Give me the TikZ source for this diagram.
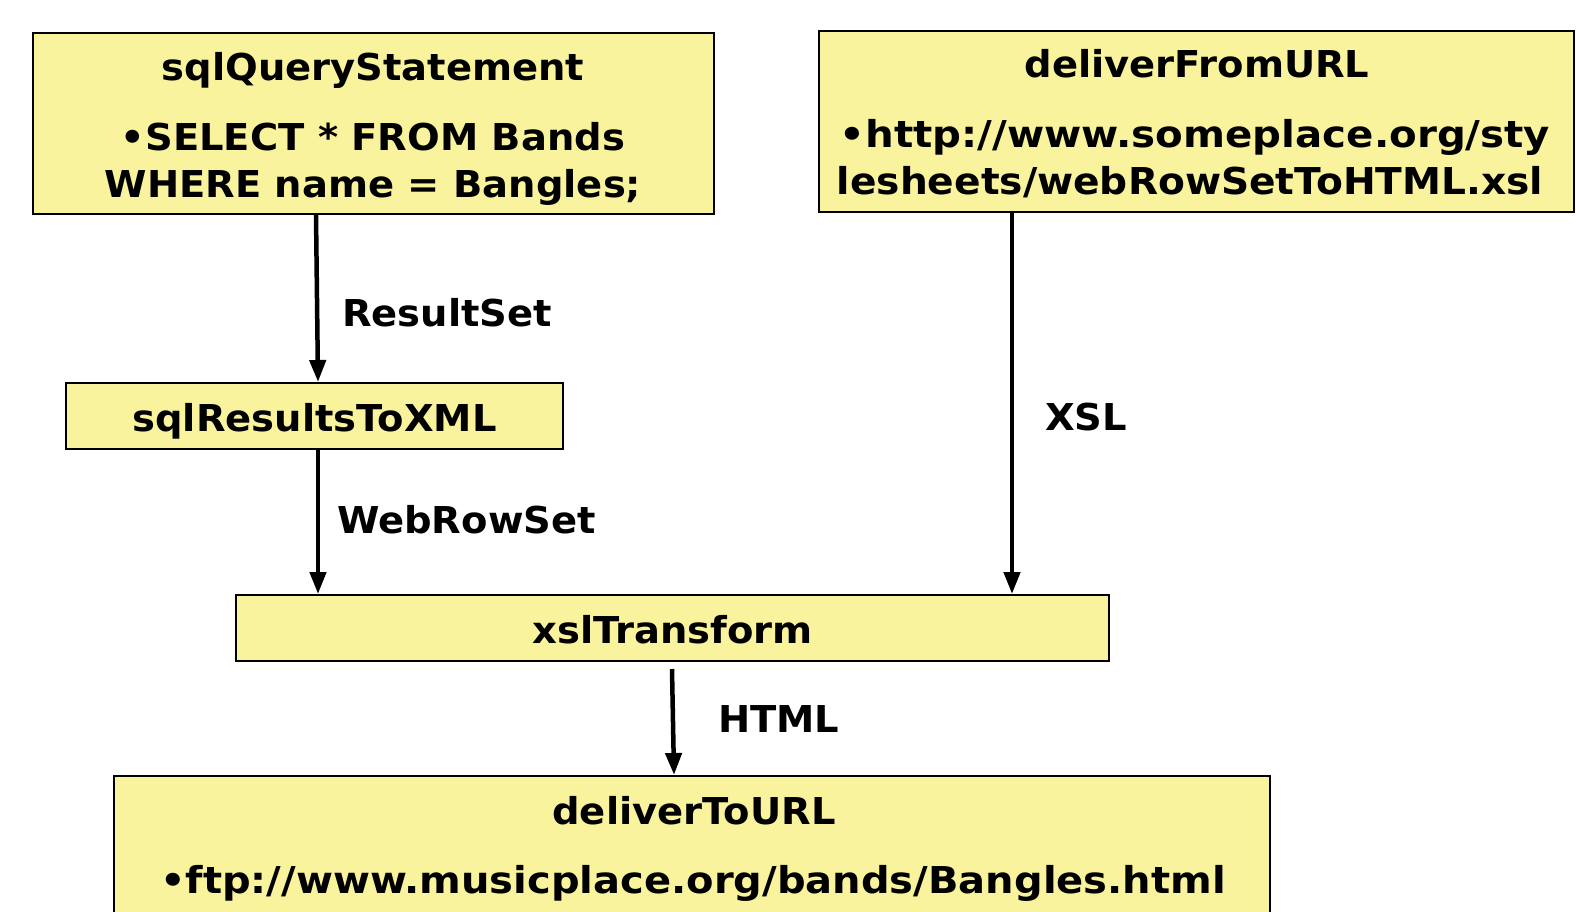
\documentclass[tikz,border=0pt]{standalone}
\usepackage{fontspec}
\setmainfont[FakeStretch=1.04]{DejaVu Sans}
\usetikzlibrary{arrows.meta}
\definecolor{boxfill}{RGB}{250,243,158}
\begin{document}
\begin{tikzpicture}[x=1pt,y=-1pt,
  box/.style={draw=black,line width=2pt,fill=boxfill,inner sep=0pt},
  txt/.style={font=\fontsize{37}{44}\selectfont\bfseries,inner sep=0pt,anchor=base},
  lbl/.style={font=\fontsize{37}{44}\selectfont\bfseries,inner sep=0pt,anchor=base west},
  flow/.style={line width=4.5pt,-{Triangle[length=22pt,width=16pt]}}]
\useasboundingbox (0,0) rectangle (1576,912);
\clip (0,0) rectangle (1576,912);
\fill[white] (0,0) rectangle (1576,912);

% boxes
\node[box,minimum width=681pt,minimum height=181pt] (q) at (373.5,123.5) {};
\node[box,minimum width=755pt,minimum height=181pt] (f) at (1196.5,121.5) {};
\node[box,minimum width=497pt,minimum height=66pt] (r) at (314.5,416) {};
\node[box,minimum width=873pt,minimum height=66pt] (s) at (672.5,628) {};
\node[box,minimum width=1156pt,minimum height=150pt] (t) at (692,851) {};

% box texts
\node[txt] (qt) at (373,81) {sqlQueryStatement};
\node[txt] (q1) at (373,151) {•SELECT * FROM Bands};
\node[txt] (q2) at (373,197) {WHERE name = Bangles;};
\node[txt] (ft) at (1197,78) {deliverFromURL};
\node[txt] (f1) at (1195,148) {\scalebox{1.048}[1]{•http://www.someplace.org/sty}};
\node[txt] (f2) at (1190,194) {\scalebox{1.017}[1]{lesheets/webRowSetToHTML.xsl}};
\node[txt] (rt) at (314.5,431) {sqlResultsToXML};
\node[txt] (st) at (672.5,643) {xslTransform};
\node[txt] (tt) at (694,824) {deliverToURL};
\node[txt] (t1) at (693,893) {\scalebox{1.04}[1]{•ftp://www.musicplace.org/bands/Bangles.html}};

% connectors
\draw[flow] ([xshift=-57.5pt]q.south) -- ([xshift=3.5pt]r.north);
\draw[flow] ([xshift=3.5pt]r.south) -- ([xshift=-354.5pt]s.north);
\draw[flow] ([xshift=-184.5pt]f.south) -- ([xshift=339.5pt]s.north);
\draw[flow] ([xshift=-0.5pt,yshift=-7pt]s.south) -- ([xshift=-18pt]t.north);

% connector labels
\node[lbl] (l1) at (342,326) {ResultSet};
\node[lbl] (l2) at (337,533) {WebRowSet};
\node[lbl] (l3) at (1045,430) {XSL};
\node[lbl] (l4) at (718,732) {HTML};
\end{tikzpicture}
\end{document}
